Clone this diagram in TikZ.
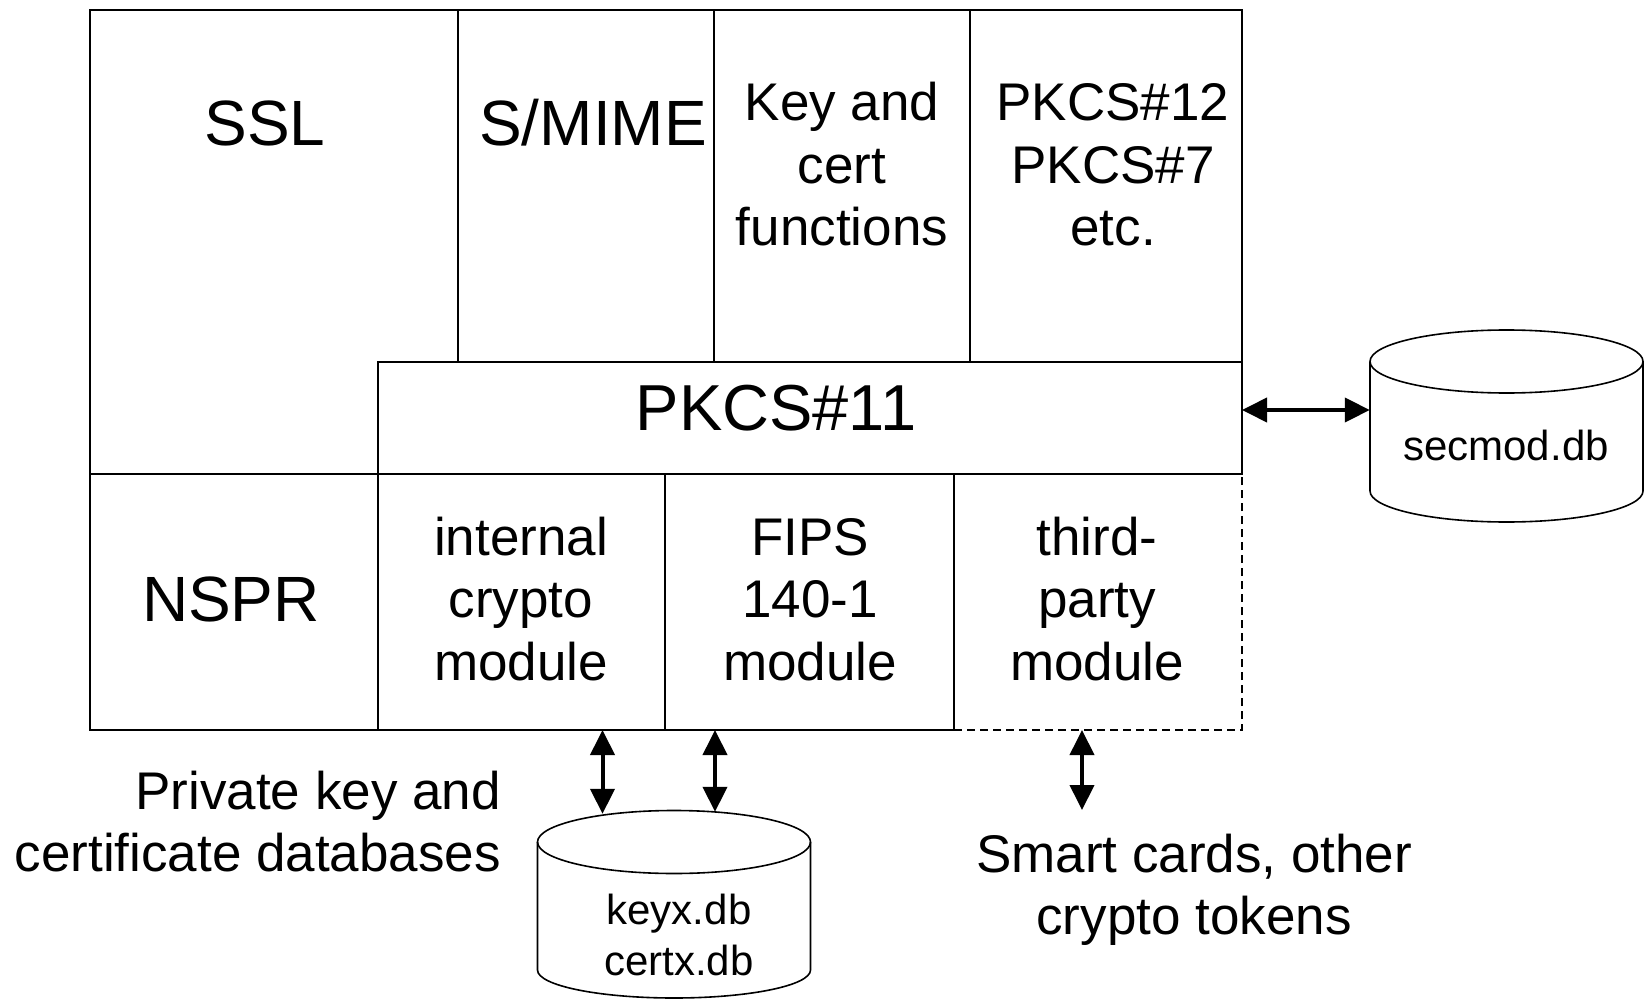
\documentclass[tikz,border=0pt]{standalone}
\usepackage{fontspec}
\setmainfont{Liberation Sans}
\usetikzlibrary{arrows.meta,calc}

% centred (or right-aligned) stack of lines whose baseline is the first line
\newcommand{\stacklines}[2][c]{\begin{tabular}[t]{@{}#1@{}}#2\end{tabular}}

\begin{document}
\begin{tikzpicture}[x=1pt,y=-1pt,
  box/.style={draw, line width=1.6pt, inner sep=0pt, outer sep=0pt, anchor=north west},
  bigtext/.style={font=\fontsize{64}{76}\selectfont, inner sep=0pt, anchor=base},
  midtext/.style={font=\fontsize{53}{62.5}\selectfont, inner sep=0pt, anchor=base},
  smalltext/.style={font=\fontsize{42}{51}\selectfont, inner sep=0pt, anchor=base},
  dbline/.style={line width=1.6pt},
  link/.style={line width=4pt,
    {Triangle[length=25pt,width=24pt]}-{Triangle[length=25pt,width=24pt]}}
]
\useasboundingbox (0,0) rectangle (1651,1000);

% upper layer
\node (ssl)    [box, minimum width=368pt, minimum height=464pt] at (90,10) {};
\node (smime)  [box, minimum width=256pt, minimum height=352pt] at (458,10) {};
\node (keyfn)  [box, minimum width=256pt, minimum height=352pt] at (714,10) {};
\node (pkcs12) [box, minimum width=272pt, minimum height=352pt] at (970,10) {};

% modules layer (third-party first so solid neighbours cover its shared edges)
\node (third)    [box, dashed, dash pattern=on 8pt off 5pt,
                  minimum width=288pt, minimum height=256pt] at (954,474) {};
\node (pkcs11)   [box, fill=white, minimum width=864pt, minimum height=112pt] at (378,362) {};
\node (nspr)     [box, minimum width=288pt, minimum height=256pt] at (90,474) {};
\node (internal) [box, minimum width=287pt, minimum height=256pt] at (378,474) {};
\node (fips)     [box, minimum width=289pt, minimum height=256pt] at (665,474) {};

% labels
\node (tssl)    [bigtext] at (265,146) {SSL};
\node (tsmime)  [bigtext] at (593,146) {S/MIME};
\node (tkeyfn)  [midtext] at (842,121) {\stacklines{Key and\\cert\\functions}};
\node (tpkcs12) [midtext] at (1113,121) {\stacklines{PKCS\#12\\PKCS\#7\\etc.}};
\node (tpkcs11) [bigtext, font=\fontsize{65}{76}\selectfont] at (776,430) {PKCS\#11};
\node (tnspr)   [bigtext] at (231,621) {NSPR};
\node (tint)    [midtext] at (521,555) {\stacklines{internal\\crypto\\module}};
\node (tfips)   [midtext] at (810,555) {\stacklines{FIPS\\140-1\\module}};
\node (tthird)  [midtext] at (1097,555) {\stacklines{third-\\party\\module}};

% security module database
\node (secmod) [minimum width=273pt, minimum height=192pt, inner sep=0pt] at (1506.5,426) {};
\draw[dbline] (1370,361.5) -- (1370,491)
  arc[start angle=180, end angle=0, x radius=136.5, y radius=31] -- (1643,361.5);
\draw[dbline] (1506.5,361.5) ellipse[x radius=136.5, y radius=31.5];
\node (tsecmod) [smalltext] at (1506,460) {secmod.db};

% key and certificate databases
\node (keydb) [minimum width=273pt, minimum height=188pt, inner sep=0pt] at (674,904) {};
\draw[dbline] (537.5,842) -- (537.5,970)
  arc[start angle=180, end angle=0, x radius=136.5, y radius=28] -- (810.5,842);
\draw[dbline] (674,842) ellipse[x radius=136.5, y radius=31.5];
\node (tkeydb) [smalltext] at (679,924) {\stacklines{keyx.db\\certx.db}};

% captions
\node (tpriv)   [midtext, anchor=base east] at (501,809)
  {\stacklines[r]{Private key and\\certificate databases}};
\node (ttokens) [midtext] at (1194,872) {\stacklines{Smart cards, other\\crypto tokens}};

% connectors
\coordinate (secrow) at (0,410);
\coordinate (kcol1) at (602.5,0);
\coordinate (kcol2) at (715,0);
\coordinate (tcol) at (1082,0);
\coordinate (tokenend) at (1082,810);
\draw[link] (pkcs11.east |- secrow) -- (secmod.west |- secrow);
\draw[link] (internal.south -| kcol1) -- ($(keydb.north -| kcol1)+(0,4)$);
\draw[link] (fips.south -| kcol2) -- ($(keydb.north -| kcol2)+(0,2)$);
\draw[link] (third.south -| tcol) -- (tokenend);
\end{tikzpicture}
\end{document}
